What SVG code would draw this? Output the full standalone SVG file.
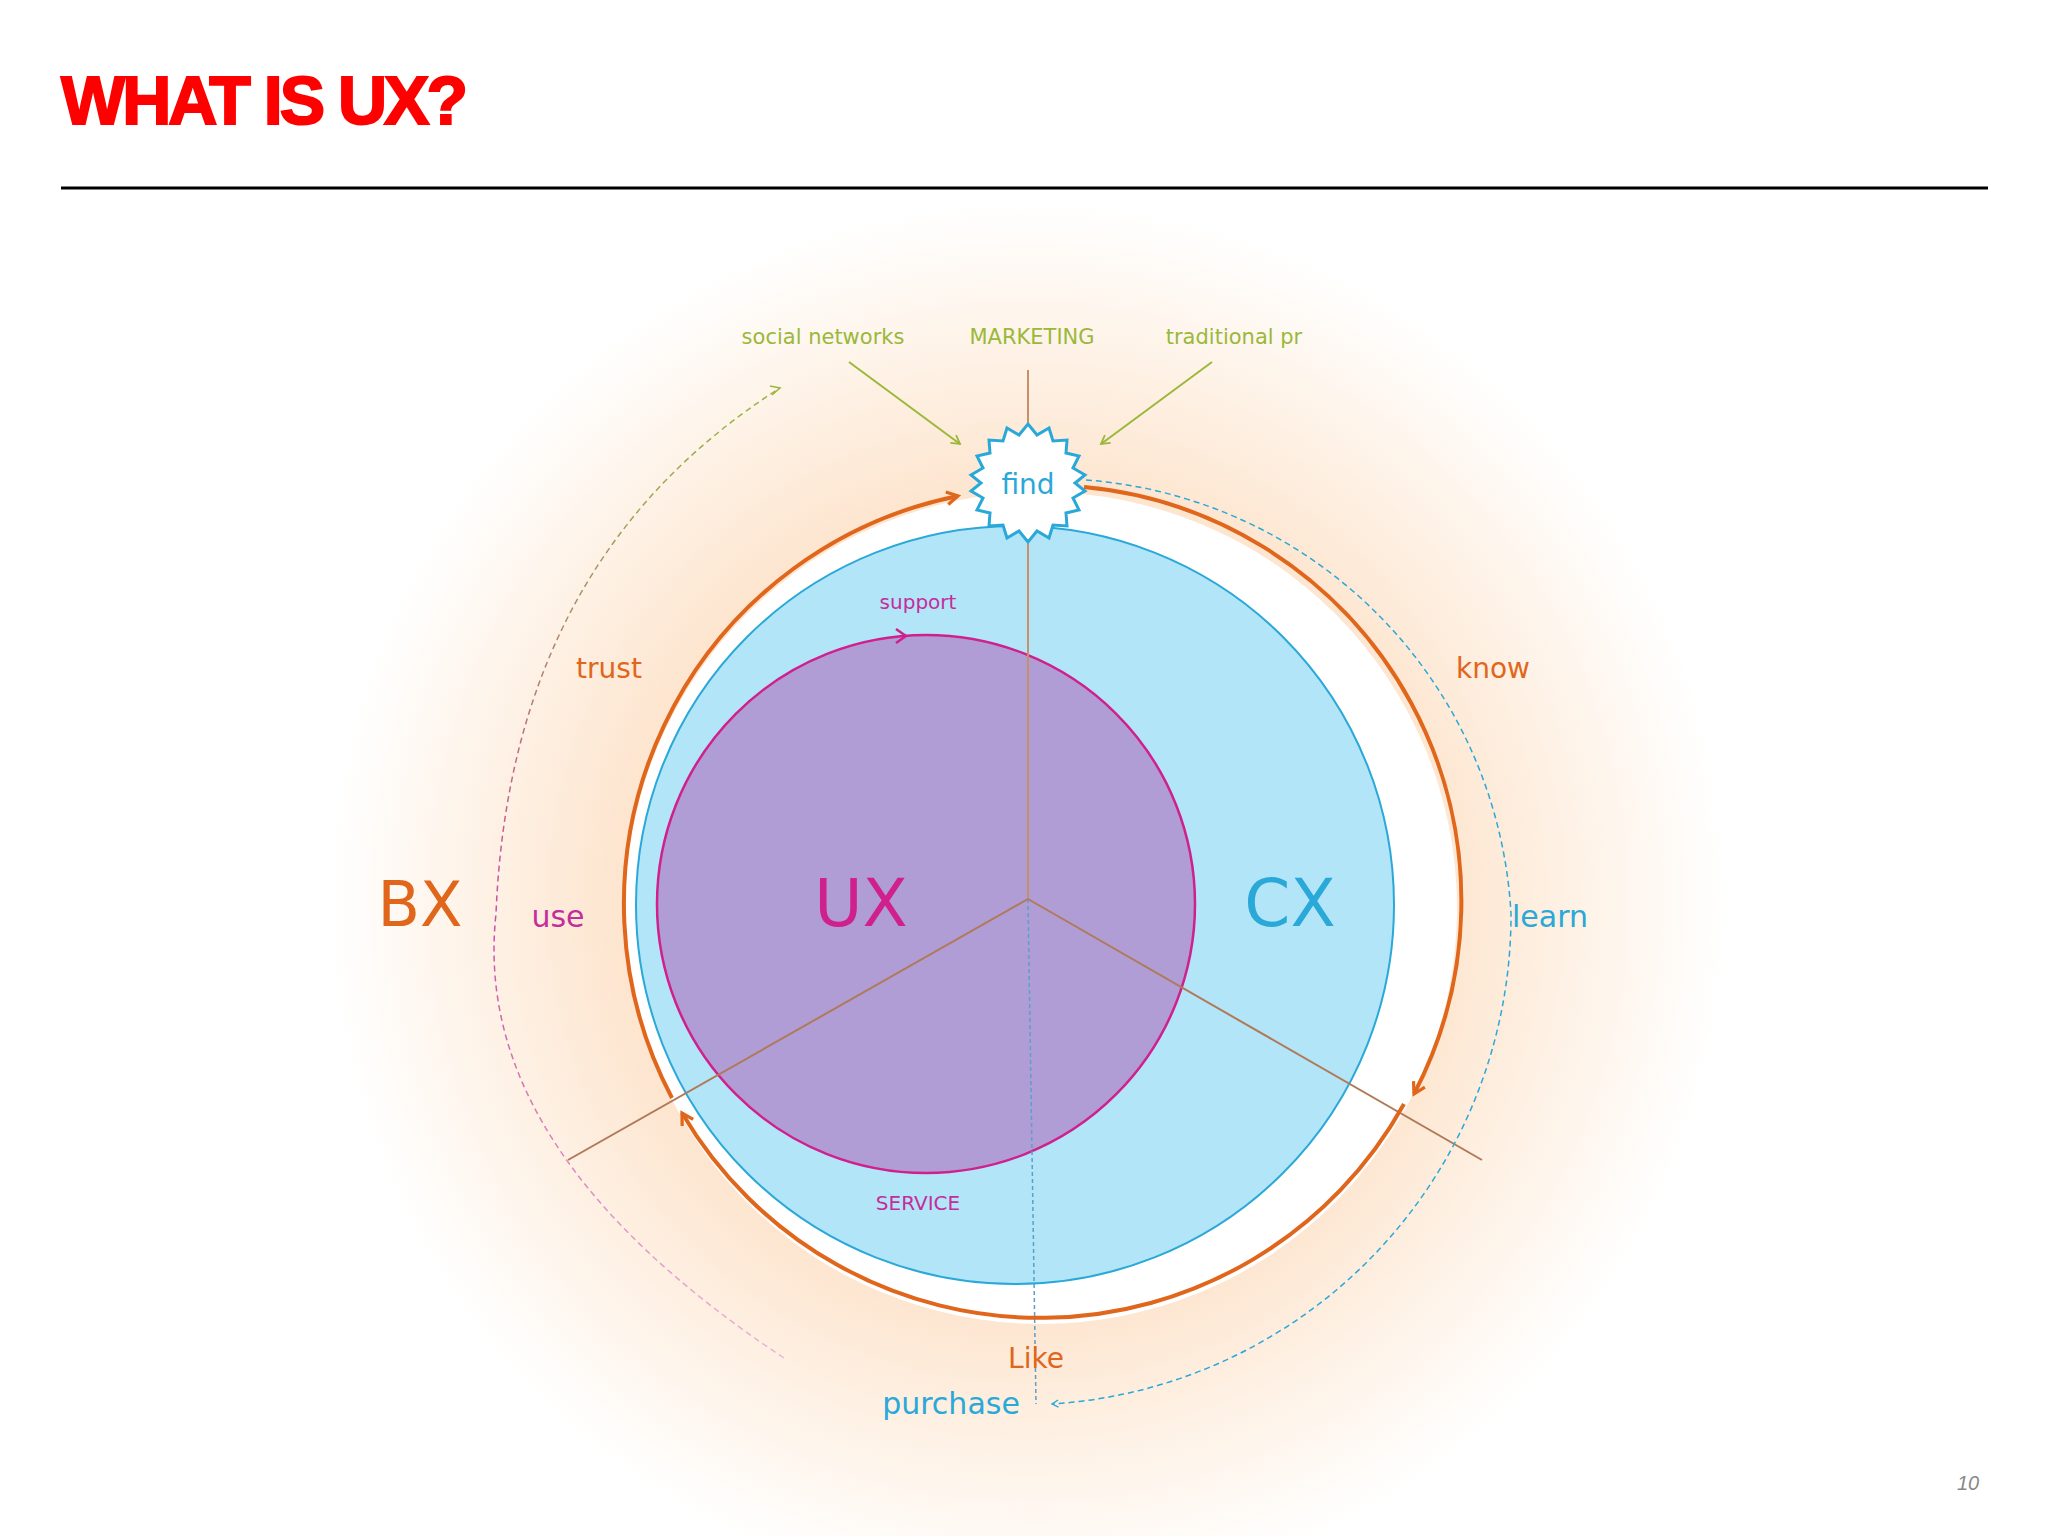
<svg xmlns="http://www.w3.org/2000/svg" width="2048" height="1536" viewBox="0 0 2048 1536">
<defs>
<radialGradient id="glow" cx="1028" cy="901" r="700" gradientUnits="userSpaceOnUse">
<stop offset="0.55" stop-color="#fde3cb"/><stop offset="0.8" stop-color="#fef3e8"/><stop offset="1" stop-color="#ffffff"/>
</radialGradient>
<linearGradient id="lg" x1="0" y1="1358" x2="0" y2="388" gradientUnits="userSpaceOnUse">
<stop offset="0" stop-color="#e9b6d6"/><stop offset="0.45" stop-color="#c850a8"/><stop offset="1" stop-color="#9ab83a"/>
</linearGradient>
<marker id="ao" viewBox="0 0 10 10" refX="8" refY="5" markerWidth="4" markerHeight="4" orient="auto"><path d="M1,1 L8,5 L1,9" fill="none" stroke="#e0661c" stroke-width="2"/></marker>
<marker id="ab" viewBox="0 0 10 10" refX="8" refY="5" markerWidth="6" markerHeight="6" orient="auto"><path d="M1,1 L8,5 L1,9" fill="none" stroke="#2aa8d8" stroke-width="1.5"/></marker>
<marker id="ag" viewBox="0 0 10 10" refX="8" refY="5" markerWidth="6" markerHeight="6" orient="auto"><path d="M1,1 L8,5 L1,9" fill="none" stroke="#9ab83a" stroke-width="1.5"/></marker>
<style>
.t{font-family:"DejaVu Sans",sans-serif;text-anchor:middle}
.g{fill:#9ab83a;font-size:21px}
.o{fill:#e0661c}
.p{fill:#c42d9c}
.b{fill:#2aa8d8}
</style>
</defs>
<rect width="2048" height="1536" fill="#fff"/>
<text x="61" y="124" font-family="Liberation Sans,sans-serif" font-weight="bold" font-size="68" fill="#ff0000" stroke="#ff0000" stroke-width="2" letter-spacing="-3">WHAT IS UX?</text>
<line x1="61" y1="188" x2="1988" y2="188" stroke="#000" stroke-width="3"/>
<circle cx="1028" cy="901" r="700" fill="url(#glow)"/>
<circle cx="1041" cy="908" r="416" fill="#fff"/>
<g id="cx"><circle cx="1015" cy="905" r="379" fill="#b3e5f8" stroke="#2aa8d8" stroke-width="2"/></g>
<g id="ux"><circle cx="926" cy="904" r="269" fill="#b09dd6" stroke="#d0208c" stroke-width="2.5"/></g>
<g id="connectors">
<line x1="1028" y1="899" x2="1028" y2="370" stroke="#c8906a" stroke-width="2"/>
<line x1="1028" y1="899" x2="1036" y2="1404" stroke="#5aa0c8" stroke-width="1.5" stroke-dasharray="4 3"/>
<line x1="1028" y1="899" x2="568" y2="1160" stroke="#b07a58" stroke-width="2"/>
<line x1="1028" y1="899" x2="1482" y2="1160" stroke="#b07a58" stroke-width="2"/>
<path d="M672,1098 A416,416 0 0 1 958,496" fill="none" stroke="#e0661c" stroke-width="4" marker-end="url(#ao)"/>
<path d="M1084,487 A416,416 0 0 1 1414,1094" fill="none" stroke="#e0661c" stroke-width="4" marker-end="url(#ao)"/>
<path d="M1404,1104 A416,416 0 0 1 682,1113" fill="none" stroke="#e0661c" stroke-width="4" marker-end="url(#ao)"/>
<path d="M1086,480 A460,460 0 0 1 1511,914 A490,490 0 0 1 1052,1404" fill="none" stroke="#2aa8d8" stroke-width="1.5" stroke-dasharray="6 4" marker-end="url(#ab)"/>
<path d="M784,1358 Q470,1150 496,914 Q510,560 780,388" fill="none" stroke="url(#lg)" stroke-width="1.5" stroke-dasharray="6 4"/>
<path d="M772,395 L780,388 L770,386" fill="none" stroke="#9ab83a" stroke-width="1.5"/>
<line x1="849" y1="362" x2="960" y2="444" stroke="#9ab83a" stroke-width="2" marker-end="url(#ag)"/>
<line x1="1212" y1="362" x2="1101" y2="444" stroke="#9ab83a" stroke-width="2" marker-end="url(#ag)"/>
<path d="M896,629 L906,636 L896,643" fill="none" stroke="#d0208c" stroke-width="2.5"/>
</g>
<g id="find">
<polygon points="1028,424 1037,435 1049,428 1053,441 1067,440 1066,453 1079,456 1073,468 1085,475 1075,483 1085,491 1073,498 1079,510 1066,513 1067,526 1053,525 1049,538 1037,531 1028,542 1019,531 1007,538 1003,525 989,526 990,513 977,510 983,498 971,491 981,483 971,475 983,468 977,456 990,453 989,440 1003,441 1007,428 1019,435" fill="#fff" stroke="#2aa8d8" stroke-width="3"/>
<text x="1028" y="494" class="t b" font-size="28">find</text>
</g>
<text x="823" y="344" class="t g">social networks</text>
<text x="1032" y="344" class="t g">MARKETING</text>
<text x="1234" y="344" class="t g">traditional pr</text>
<text x="918" y="609" class="t p" font-size="20">support</text>
<text x="918" y="1210" class="t p" font-size="20">SERVICE</text>
<text x="609" y="678" class="t o" font-size="28">trust</text>
<text x="1493" y="678" class="t o" font-size="28">know</text>
<text x="420" y="926" class="t o" font-size="62">BX</text>
<text x="558" y="927" class="t p" font-size="30">use</text>
<text x="861" y="926" class="t" font-size="66" fill="#d0208c">UX</text>
<text x="1290" y="926" class="t b" font-size="66">CX</text>
<text x="1550" y="927" class="t b" font-size="30">learn</text>
<text x="1036" y="1368" class="t o" font-size="28">Like</text>
<text x="951" y="1414" class="t b" font-size="30">purchase</text>
<text x="1968" y="1490" font-family="Liberation Sans,sans-serif" font-style="italic" font-size="20" fill="#888" text-anchor="middle">10</text>
</svg>
